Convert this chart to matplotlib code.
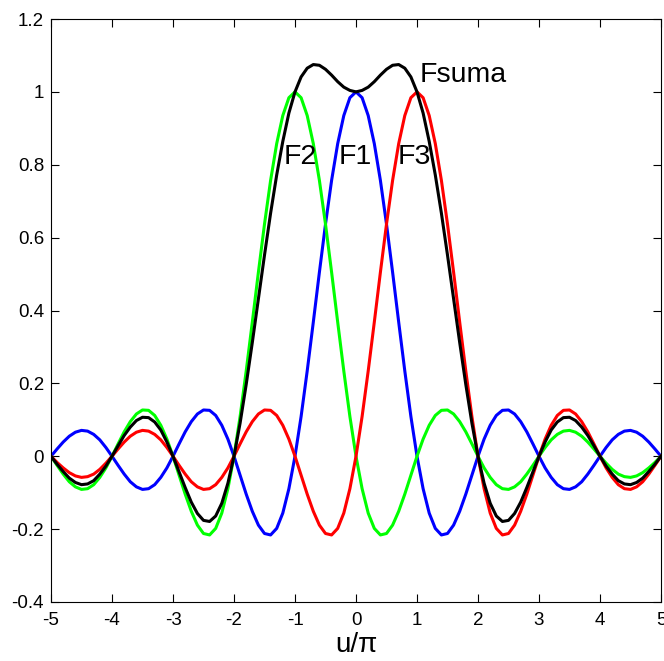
import numpy as np
import matplotlib
matplotlib.use("Agg")
import matplotlib.pyplot as plt
from matplotlib.ticker import FuncFormatter

plt.rcParams["font.family"] = ["Liberation Sans", "DejaVu Sans"]
plt.rcParams["axes.unicode_minus"] = False

# u/pi sampled in steps of 0.1 from -5 to 5
u = np.linspace(-5, 5, 101)

F1 = [0.000, 0.020, 0.039, 0.055, 0.066, 0.071, 0.069, 0.060, 0.045, 0.024,
      0.000, -0.025, -0.049, -0.070, -0.084, -0.091, -0.089, -0.078, -0.058, -0.032,
      0.000, 0.034, 0.067, 0.095, 0.116, 0.127, 0.126, 0.112, 0.085, 0.047,
      0.000, -0.052, -0.104, -0.151, -0.189, -0.212, -0.216, -0.198, -0.156, -0.089,
      0.000, 0.109, 0.234, 0.368, 0.505, 0.637, 0.757, 0.858, 0.935, 0.984,
      1.000,
      0.984, 0.935, 0.858, 0.757, 0.637, 0.505, 0.368, 0.234, 0.109, 0.000,
      -0.089, -0.156, -0.198, -0.216, -0.212, -0.189, -0.151, -0.104, -0.052, 0.000,
      0.047, 0.085, 0.112, 0.126, 0.127, 0.116, 0.095, 0.067, 0.034, 0.000,
      -0.032, -0.058, -0.078, -0.089, -0.091, -0.084, -0.070, -0.049, -0.025, 0.000,
      0.024, 0.045, 0.060, 0.069, 0.071, 0.066, 0.055, 0.039, 0.020, 0.000]

F2 = [0.000, -0.025, -0.049, -0.070, -0.084, -0.091, -0.089, -0.078, -0.058, -0.032,
      0.000, 0.034, 0.067, 0.095, 0.116, 0.127, 0.126, 0.112, 0.085, 0.047,
      0.000, -0.052, -0.104, -0.151, -0.189, -0.212, -0.216, -0.198, -0.156, -0.089,
      0.000, 0.109, 0.234, 0.368, 0.505, 0.637, 0.757, 0.858, 0.935, 0.984,
      1.000,
      0.984, 0.935, 0.858, 0.757, 0.637, 0.505, 0.368, 0.234, 0.109, 0.000,
      -0.089, -0.156, -0.198, -0.216, -0.212, -0.189, -0.151, -0.104, -0.052, 0.000,
      0.047, 0.085, 0.112, 0.126, 0.127, 0.116, 0.095, 0.067, 0.034, 0.000,
      -0.032, -0.058, -0.078, -0.089, -0.091, -0.084, -0.070, -0.049, -0.025, 0.000,
      0.024, 0.045, 0.060, 0.069, 0.071, 0.066, 0.055, 0.039, 0.020, 0.000,
      -0.019, -0.036, -0.049, -0.056, -0.058, -0.054, -0.045, -0.032, -0.017, 0.000]

F3 = [0.000, -0.017, -0.032, -0.045, -0.054, -0.058, -0.056, -0.049, -0.036, -0.019,
      0.000, 0.020, 0.039, 0.055, 0.066, 0.071, 0.069, 0.060, 0.045, 0.024,
      0.000, -0.025, -0.049, -0.070, -0.084, -0.091, -0.089, -0.078, -0.058, -0.032,
      0.000, 0.034, 0.067, 0.095, 0.116, 0.127, 0.126, 0.112, 0.085, 0.047,
      0.000, -0.052, -0.104, -0.151, -0.189, -0.212, -0.216, -0.198, -0.156, -0.089,
      0.000, 0.109, 0.234, 0.368, 0.505, 0.637, 0.757, 0.858, 0.935, 0.984,
      1.000,
      0.984, 0.935, 0.858, 0.757, 0.637, 0.505, 0.368, 0.234, 0.109, 0.000,
      -0.089, -0.156, -0.198, -0.216, -0.212, -0.189, -0.151, -0.104, -0.052, 0.000,
      0.047, 0.085, 0.112, 0.126, 0.127, 0.116, 0.095, 0.067, 0.034, 0.000,
      -0.032, -0.058, -0.078, -0.089, -0.091, -0.084, -0.070, -0.049, -0.025, 0.000]

Fsuma = [0.000, -0.022, -0.042, -0.060, -0.072, -0.078, -0.076, -0.067, -0.049, -0.027,
         0.000, 0.029, 0.057, 0.080, 0.098, 0.107, 0.106, 0.094, 0.072, 0.039,
         0.000, -0.043, -0.086, -0.126, -0.157, -0.176, -0.179, -0.164, -0.129, -0.074,
         0.000, 0.091, 0.197, 0.312, 0.432, 0.552, 0.667, 0.772, 0.864, 0.942,
         1.000, 1.041, 1.065, 1.075, 1.073, 1.062, 1.046, 1.028, 1.013, 1.004,
         1.000,
         1.004, 1.013, 1.028, 1.046, 1.062, 1.073, 1.075, 1.065, 1.041, 1.000,
         0.942, 0.864, 0.772, 0.667, 0.552, 0.432, 0.312, 0.197, 0.091, 0.000,
         -0.074, -0.129, -0.164, -0.179, -0.176, -0.157, -0.126, -0.086, -0.043, 0.000,
         0.039, 0.072, 0.094, 0.106, 0.107, 0.098, 0.080, 0.057, 0.029, 0.000,
         -0.027, -0.049, -0.067, -0.076, -0.078, -0.072, -0.060, -0.042, -0.022, 0.000]

xticks = np.arange(-5, 6, 1)
yticks = np.arange(-0.4, 1.21, 0.2)

fig = plt.figure(figsize=(6.64, 6.61), dpi=100)
ax = fig.add_axes([51 / 664, 59 / 661, 610 / 664, 583 / 661])

lw = 2.2
ax.plot(u, F1, color=(0, 0, 1), lw=lw)
ax.plot(u, F2, color=(0, 1, 0), lw=lw)
ax.plot(u, F3, color=(1, 0, 0), lw=lw)
ax.plot(u, Fsuma, color="k", lw=lw)

ax.set_xlim(-5, 5)
ax.set_ylim(-0.4, 1.2)
ax.set_xticks(xticks)
ax.set_yticks(yticks)
ax.yaxis.set_major_formatter(FuncFormatter(lambda v, p: "%g" % round(v, 1)))
ax.xaxis.set_major_formatter(FuncFormatter(lambda v, p: "%g" % v))
ax.tick_params(direction="in", length=6, width=0.8, labelsize=13.5,
               top=True, right=True)
ax.tick_params(axis="y", pad=5)
ax.tick_params(axis="x", pad=7)
for sp in ax.spines.values():
    sp.set_linewidth(0.8)

# axis label placed at the bottom centre of the axes
fig.text(356 / 664, 9 / 661, "u/\u03c0", fontsize=20, ha="center", va="baseline")

lab = dict(fontsize=20.5, va="baseline", ha="left")
ax.text(-1.18, 0.802, "F2", **lab)
ax.text(-0.28, 0.802, "F1", **lab)
ax.text(0.69, 0.802, "F3", **lab)
ax.text(1.04, 1.026, "Fsuma", **lab)

fig.savefig("out.png", dpi=100)
